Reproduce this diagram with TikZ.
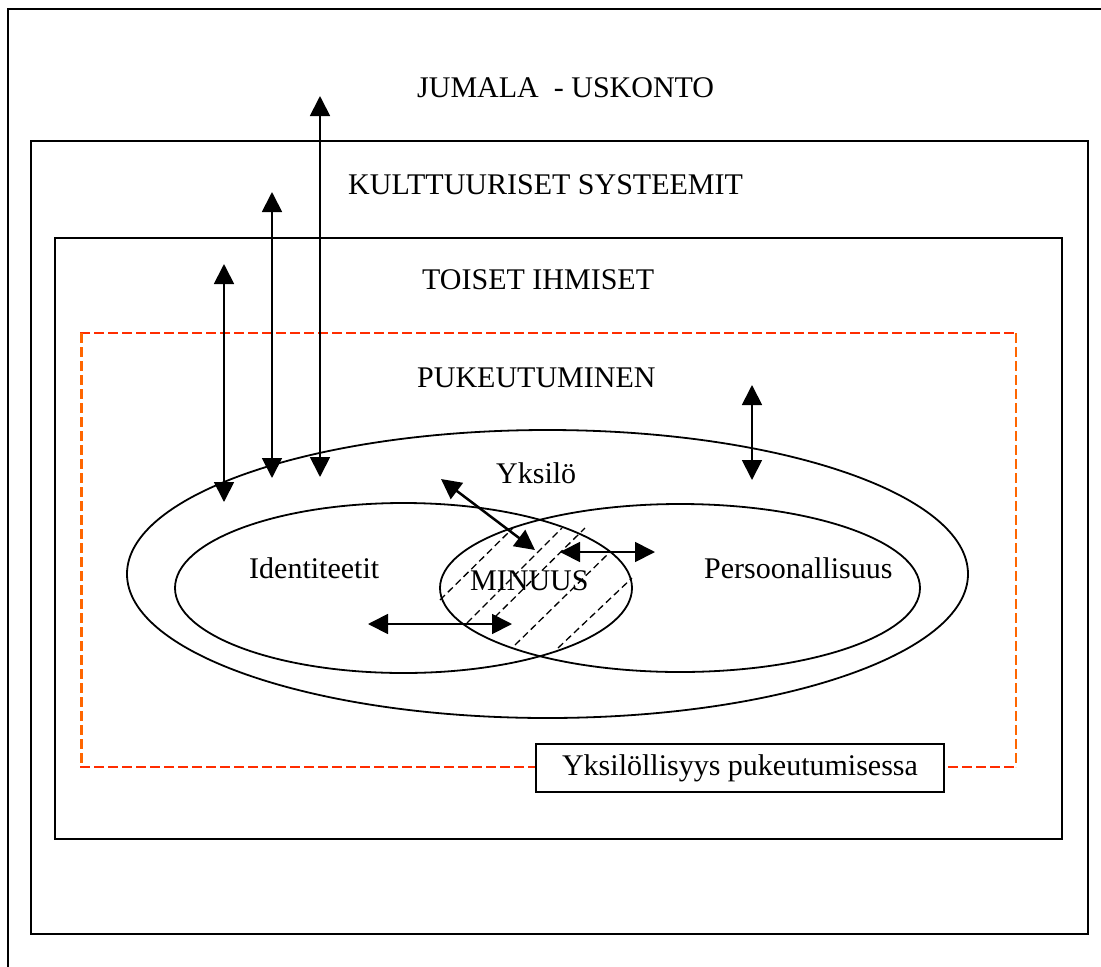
\documentclass[tikz,border=0pt]{standalone}
\usepackage{fontspec}
\setmainfont{Liberation Serif}
\usetikzlibrary{arrows.meta,shapes.geometric}

\definecolor{kehysPuna}{RGB}{255,45,0}
\definecolor{kehysOranssi}{RGB}{255,102,0}

\tikzset{laatikko/.style = {draw, line width=2pt},
         kehys/.style = {line width=2.5pt, dash pattern=on 10pt off 4pt},
         soikio/.style = {ellipse, draw, line width=1.8pt, inner sep=0pt},
         teksti/.style = {anchor=base west, inner sep=0pt, font=\fontsize{30}{36}\selectfont},
         nuoli/.style = {{Triangle[length=20pt,width=20pt]}-{Triangle[length=20pt,width=20pt]}, line width=1.8pt},
         viiva/.style = {dash pattern=on 7pt off 4pt, line width=1.3pt}
        }

\begin{document}
\begin{tikzpicture}[x=1pt, y=-1pt]
\clip (0,0) rectangle (1101,967);
% laatikot
\draw[laatikko] (7.5,8.5) rectangle (1130,1000);
\draw[laatikko] (31,141) rectangle (1088,934);
\draw[laatikko] (55,238) rectangle (1062,839);
\draw[kehys, draw=kehysPuna] (80,333) -- (1016,333);
\draw[kehys, draw=kehysPuna] (80,767) -- (1016,767);
\draw[kehys, draw=kehysOranssi] (81.5,333) -- (81.5,767);
\draw[kehys, draw=kehysOranssi] (1016,333) -- (1016,767);
\node[laatikko, fill=white, minimum width=408pt, minimum height=48pt, inner sep=0pt,
      font=\fontsize{30}{36}\selectfont] (yp) at (740,768) {Yksilöllisyys pukeutumisessa};

\node[teksti] (jumala) at (417,97) {JUMALA\ \ - USKONTO};
\node[teksti] (kult) at (348,194) {KULTTUURISET SYSTEEMIT};
\node[teksti] (toiset) at (422,289) {TOISET IHMISET};
\node[teksti] (puk) at (417,387) {PUKEUTUMINEN};

% soikiot
\node[soikio, minimum width=841pt, minimum height=288pt] (yksilo) at (547.5,574) {};
\node[soikio, minimum width=457pt, minimum height=170pt] (ident) at (403.5,588) {};
\node[soikio, minimum width=480pt, minimum height=168pt] (pers) at (680,588) {};

\node[teksti] (tyks) at (496,483) {Yksilö};
\node[teksti] (tident) at (249,578) {Identiteetit};
\node[teksti] (tmin) at (470,590) {MINUUS};
\node[teksti] (tpers) at (704,578) {Persoonallisuus};

% viivoitus
\foreach \n/\xa/\ya/\xb/\yb in {1/440/600/513/528, 2/467/623/562/528, 3/495/617/585/528, 4/515/645/610/552, 5/558/648/632/578}
   {\coordinate (va\n) at (\xa,\ya);
    \coordinate (vb\n) at (\xb,\yb);
    \draw[viiva] (va\n) -- (vb\n);};

% nuolet
\foreach \n/\x/\ya/\yb in {1/224/264/502, 2/272/192/478, 3/320/96/477, 4/752/385/480}
   {\coordinate (y\n) at (\x,\ya);
    \coordinate (a\n) at (\x,\yb);
    \draw[nuoli] (y\n) -- (a\n);};
\coordinate (d1) at (441,479);
\coordinate (d2) at (535,550);
\draw[nuoli, line width=2.5pt] (d1) -- (d2);
\coordinate (h1) at (560,552);
\coordinate (h2) at (655,552);
\draw[nuoli] (h1) -- (h2);
\coordinate (h3) at (368,624);
\coordinate (h4) at (512,624);
\draw[nuoli] (h3) -- (h4);
\end{tikzpicture}
\end{document}
